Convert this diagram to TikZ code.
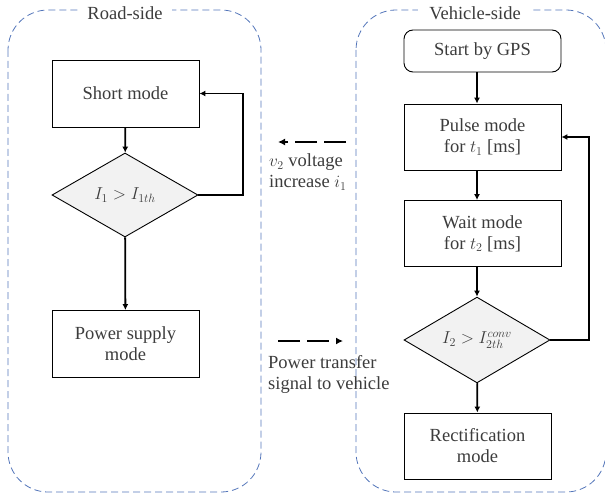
\documentclass[tikz,border=0pt]{standalone}
\usepackage{fontspec}
\setmainfont{Liberation Serif}
\usepackage{xcolor}
\usetikzlibrary{shapes.geometric,arrows.meta}
\definecolor{contorno}{RGB}{84,118,186}
\definecolor{texto}{RGB}{60,60,60}
\definecolor{relleno}{RGB}{242,242,242}

\begin{document}
\begin{tikzpicture}[x=1pt,y=-1pt,
	every node/.style={font=\fontsize{18.5}{21}\selectfont,text=texto},
	caja/.style={draw,line width=0.9pt,inner sep=0pt,align=center,minimum width=147pt,minimum height=67pt},
	rombo/.style={diamond,draw,line width=0.9pt,fill=relleno,inner sep=0pt,minimum width=146pt,minimum height=84pt},
	flecha/.style={line width=1.8pt,-{Latex[length=6pt,width=6pt]}},
	senal/.style={line width=2.6pt,dash pattern=on 22pt off 7pt,-{Latex[length=7pt,width=7pt]}},
	lado/.style={draw=contorno,line width=0.8pt,dash pattern=on 7pt off 4pt,rounded corners=40pt}]
	\useasboundingbox (0,0) rectangle (605,497);
	% contornos
	\draw[lado] (8,10) rectangle (261,492);
	\draw[lado] (356,10) rectangle (606,492);
	\node[fill=white,inner xsep=9pt,inner ysep=1pt] (tituloR) at (125,13) {Road-side};
	\node[fill=white,inner xsep=11pt,inner ysep=1pt] (tituloV) at (475,13) {Vehicle-side};
	% lado de la carretera
	\node[caja] (corto) at (125.5,93.5) {Short mode};
	\node[rombo] (cond1) at (125,195) {$I_1 > I_{1th}$};
	\node[caja] (fuente) at (125.5,344) {Power supply\\mode};
	\coordinate (vuelta1) at (243,195);
	\draw[flecha] (corto) -- (cond1);
	\draw[flecha] (cond1) -- (fuente);
	\draw[flecha] (cond1.east) -- (vuelta1) |- (corto.east);
	% lado del vehiculo
	\node[caja,minimum width=157pt,minimum height=42pt,rounded corners=9pt] (gps) at (482.5,51) {Start by GPS};
	\node[caja,minimum width=157pt,minimum height=66pt] (pulso) at (482.5,137) {Pulse mode\\for $t_1$ [ms]};
	\node[caja,minimum width=157pt,minimum height=66pt] (espera) at (482.5,233.5) {Wait mode\\for $t_2$ [ms]};
	\node[rombo] (cond2) at (477,340) {$I_2 > I_{2th}^{conv}$};
	\node[caja,minimum height=66pt] (rect) at (477.5,446) {Rectification\\mode};
	\coordinate (vuelta2) at (589,340);
	\foreach \De/\A in {gps/pulso,pulso/espera,espera/cond2}
	{
		\draw[flecha] (\De.south -| cond2) -- (\A.north -| cond2);
	}
	\draw[flecha] (cond2) -- (rect);
	\draw[flecha] (cond2.east) -- (vuelta2) |- (pulso.east);
	% senales entre los lados
	\coordinate (s1a) at (346,142);
	\coordinate (s1b) at (278,142);
	\coordinate (s2a) at (278,341);
	\coordinate (s2b) at (343,341);
	\draw[senal] (s1a) -- (s1b);
	\draw[senal] (s2a) -- (s2b);
	\node[align=left,anchor=west,inner sep=0pt] (lbl1) at (269,172) {$v_2$ voltage\\increase $i_1$};
	\node[align=left,anchor=west,inner sep=0pt] (lbl2) at (268,374) {Power transfer\\signal to vehicle};
\end{tikzpicture}
\end{document}
